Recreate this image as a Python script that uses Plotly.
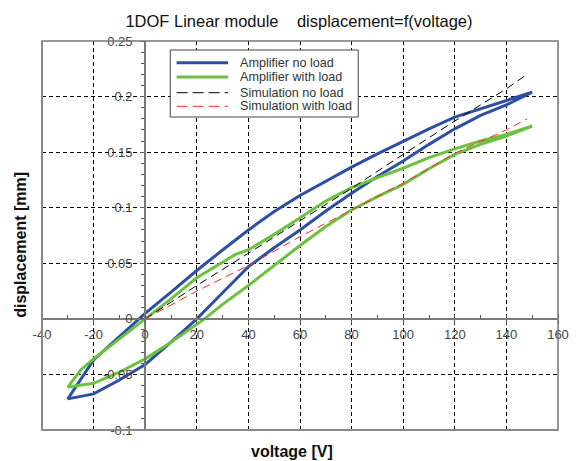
import plotly.graph_objects as go

# ---- data (voltage [V], displacement [mm]) ----
# Amplifier no load: upper branch (voltage decreasing) then lower branch (voltage increasing)
blue_up_v = [150, 140, 130, 120, 110, 100, 90, 80, 70, 60, 50, 40, 30, 20, 10, 0, -10, -20, -30]
blue_up_d = [0.204, 0.1965, 0.189, 0.1815, 0.171, 0.160, 0.1485, 0.1365, 0.124, 0.111, 0.0965,
             0.080, 0.062, 0.0435, 0.024, 0.005, -0.016, -0.037, -0.072]
blue_lo_v = [-30, -20, -10, 0, 10, 20, 30, 40, 50, 60, 70, 80, 90, 100, 110, 120, 130, 140, 150]
blue_lo_d = [-0.072, -0.0675, -0.055, -0.041, -0.021, 0.000, 0.0235, 0.047, 0.064, 0.080, 0.097,
             0.113, 0.128, 0.142, 0.157, 0.171, 0.183, 0.1925, 0.204]

# Amplifier with load
green_up_v = [150, 140, 130, 120, 110, 100, 90, 80, 70, 60, 50, 40, 35, 30, 20, 10, 0, -10, -20, -25, -30]
green_up_d = [0.1735, 0.166, 0.160, 0.153, 0.145, 0.1355, 0.127, 0.118, 0.106, 0.091, 0.076, 0.062,
              0.058, 0.051, 0.037, 0.018, 0.000, -0.018, -0.036, -0.046, -0.0614]
green_lo_v = [-30, -20, -10, 0, 10, 23, 30, 40, 50, 60, 70, 80, 90, 100, 110, 120, 130, 140, 150]
green_lo_d = [-0.0614, -0.058, -0.048, -0.036, -0.021, 0.000, 0.013, 0.030, 0.048, 0.066, 0.083,
              0.098, 0.110, 0.121, 0.135, 0.148, 0.157, 0.1645, 0.1735]

# Simulations
sim_nl_v = [0, 20, 40, 60, 80, 100, 120, 140, 148]
sim_nl_d = [0, 0.030, 0.059, 0.088, 0.1175, 0.148, 0.178, 0.207, 0.220]
sim_wl_v = [0, 20, 40, 60, 80, 100, 120, 140, 148]
sim_wl_d = [0, 0.025, 0.048, 0.074, 0.098, 0.122, 0.149, 0.170, 0.180]

series_names = ["Amplifier no load", "Amplifier with load", "Simulation no load", "Simulation with load"]

x_ticks = [-40, -20, 0, 20, 40, 60, 80, 100, 120, 140, 160]
x_labels = ["-40", "-20", "0", "20", "40", "60", "80", "100", "120", "140", "160"]
y_ticks = [-0.1, -0.05, 0, 0.05, 0.1, 0.15, 0.2, 0.25]
y_labels = ["-0.1", "-0.05", "0", "0.05", "0.1", "0.15", "0.2", "0.25"]

x_range = [-40, 160]
y_range = [-0.1, 0.25]

BLUE = "#2f4fa3"
GREEN = "#6cc23f"
RED = "#ff2a2a"
FONT = "Liberation Sans, Arial, sans-serif"

styles = [
    dict(color=BLUE, width=3),
    dict(color=GREEN, width=3),
    dict(color="black", width=1, dash="8px,5px"),
    dict(color=RED, width=1, dash="8px,5px"),
]

fig = go.Figure()
fig.add_trace(go.Scatter(x=blue_up_v + blue_lo_v, y=blue_up_d + blue_lo_d, mode="lines",
                         name=series_names[0], line=styles[0], showlegend=False))
fig.add_trace(go.Scatter(x=green_up_v + green_lo_v, y=green_up_d + green_lo_d, mode="lines",
                         name=series_names[1], line=styles[1], showlegend=False))
fig.add_trace(go.Scatter(x=sim_nl_v, y=sim_nl_d, mode="lines",
                         name=series_names[2], line=styles[2], showlegend=False))
fig.add_trace(go.Scatter(x=sim_wl_v, y=sim_wl_d, mode="lines",
                         name=series_names[3], line=styles[3], showlegend=False))

# axes cross at the origin
xpos = (0 - y_range[0]) / (y_range[1] - y_range[0])
ypos = (0 - x_range[0]) / (x_range[1] - x_range[0])

tickfont = dict(family=FONT, size=13, color="#444")

# plot-area size in pixels (used for legend layout in paper units)
PW, PH = 527, 389

def px(xp):
    return xp / PW

def py(yp):
    return 1 - yp / PH

# hand-made legend box (compact row spacing like the original)
shapes = [
    dict(type="rect", xref="paper", yref="paper", x0=px(131), x1=px(323), y0=py(76), y1=py(9),
         line=dict(color="#444", width=1), fillcolor="white", layer="above"),
]
annotations = []
row_y = [21.7, 36, 51.7, 65.3]
legend_dash = [None, None, "11px,5px", "11px,5px"]
for name, st, ry, dsh in zip(series_names, styles, row_y, legend_dash):
    line = dict(color=st["color"], width=st["width"])
    if dsh:
        line["dash"] = dsh
    shapes.append(dict(type="line", xref="paper", yref="paper", x0=px(137.5), x1=px(190),
                       y0=py(ry), y1=py(ry), line=line, layer="above"))
    annotations.append(dict(text=name, xref="paper", yref="paper", x=px(200.5), y=py(ry),
                            xanchor="left", yanchor="middle", showarrow=False,
                            font=dict(family=FONT, size=12.6, color="#333")))

# plot frame
shapes += [
    dict(type="rect", xref="paper", yref="paper", x0=0, x1=1, y0=0, y1=1,
         line=dict(color="#777", width=1.5), layer="above"),
    dict(type="line", xref="paper", yref="paper", x0=0, x1=0, y0=0, y1=1,
         line=dict(color="#888", width=2), layer="above"),
    dict(type="line", xref="paper", yref="paper", x0=0, x1=1, y0=0, y1=0,
         line=dict(color="#888", width=2), layer="above"),
]

annotations += [
    dict(text="<b>voltage [V]</b>", xref="paper", yref="paper", x=0.485, y=-0.056,
         xanchor="center", yanchor="middle", showarrow=False,
         font=dict(family=FONT, size=16, color="#111")),
    dict(text="<b>displacement [mm]</b>", xref="paper", yref="paper", x=-0.042, y=0.477,
         xanchor="center", yanchor="middle", showarrow=False, textangle=-90,
         font=dict(family=FONT, size=16, color="#111")),
]

W, H = 570, 453  # page body keeps an 8px default margin
fig.update_layout(
    width=W, height=H,
    margin=dict(l=34, r=9, t=33, b=31),
    paper_bgcolor="white", plot_bgcolor="white",
    title=dict(text="1DOF Linear module\u00a0\u00a0\u00a0\u00a0displacement=f(voltage)",
               x=0.498, xref="paper", xanchor="center", y=1 - 13 / H, yanchor="middle",
               font=dict(family=FONT, size=16.5, color="#111")),
    xaxis=dict(range=x_range, domain=[0, 1], anchor="free", position=xpos,
               tickvals=x_ticks, ticktext=x_labels, tickfont=tickfont,
               ticklabeloverflow="allow",
               showline=True, linecolor="#7a7a7a", linewidth=2,
               ticks="outside", ticklen=4, tickcolor="#555",
               minor=dict(dtick=10, ticks="inside", ticklen=3, tickcolor="#555", showgrid=False),
               showgrid=True, gridcolor="black", gridwidth=1, griddash="4px,3px",
               zeroline=False),
    yaxis=dict(range=y_range, domain=[0, 1], anchor="free", position=ypos,
               tickvals=y_ticks, ticktext=y_labels, tickfont=tickfont,
               ticklabeloverflow="allow", ticklabelstandoff=5,
               showline=True, linecolor="#7a7a7a", linewidth=2,
               ticks="outside", ticklen=4, tickcolor="#555",
               minor=dict(dtick=0.01, ticks="outside", ticklen=3, tickcolor="#555", showgrid=False),
               showgrid=True, gridcolor="black", gridwidth=1, griddash="4px,3px",
               zeroline=False),
    showlegend=False,
    shapes=shapes,
    annotations=annotations,
)

fig.write_html("out.html")
